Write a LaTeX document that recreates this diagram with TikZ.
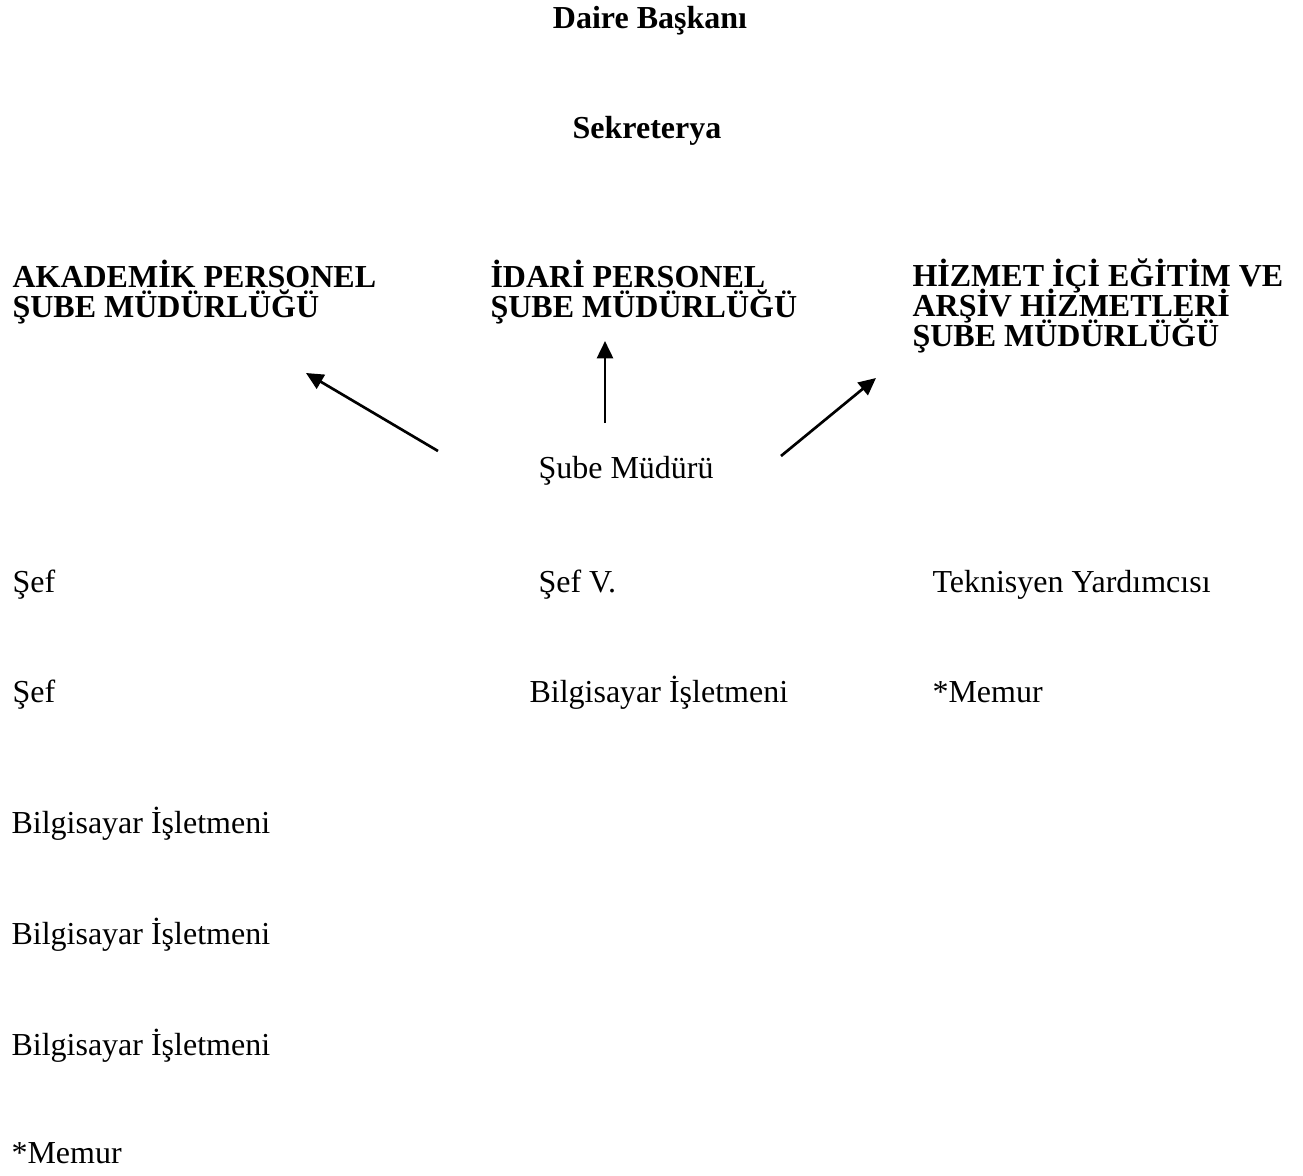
\documentclass[tikz,border=0pt]{standalone}
\usepackage{fontspec}
\setmainfont{Liberation Serif}
\usetikzlibrary{arrows.meta}
% tight heading lines, as in the chart
\newcommand\unitfont{\fontsize{12pt}{11.25pt}\selectfont\bfseries\lineskiplimit-20pt\relax}
\begin{document}
\begin{tikzpicture}[x=0.375pt,y=-0.375pt,
  title/.style={anchor=base,inner sep=0pt,font=\fontsize{12pt}{14pt}\selectfont\bfseries},
  unit/.style={anchor=base west,inner sep=0pt,align=left,font=\unitfont},
  staff/.style={anchor=base west,inner sep=0pt,font=\fontsize{12pt}{14pt}\selectfont},
  link/.style={-{Triangle[length=6.5pt,width=6pt]},line width=1pt}]
\useasboundingbox (0,0) rectangle (1303,1175);
% top
\node[title] (head) at (650,28) {Daire Başkanı};
\node[title] (secr) at (647,138) {Sekreterya};
% units (placed at the baseline of their last line)
\node[unit] (acad) at (12,317) {AKADEMİK PERSONEL\\ŞUBE MÜDÜRLÜĞÜ};
\node[unit] (admin) at (490,317) {İDARİ PERSONEL\\ŞUBE MÜDÜRLÜĞÜ};
\node[unit] (train) at (912,346) {HİZMET İÇİ EĞİTİM VE\\ARŞİV HİZMETLERİ\\ŞUBE MÜDÜRLÜĞÜ};
% manager
\node[staff] (mgr) at (538,478) {Şube Müdürü};
\coordinate (mgr_l) at (438,451);
\coordinate (mgr_m) at (605,423);
\coordinate (mgr_r) at (781,456);
\coordinate (acad_in) at (306,373);
\coordinate (admin_in) at (605,341);
\coordinate (train_in) at (876,378);
\draw[link] (mgr_l) -- (acad_in);
\draw[link] (mgr_m) -- (admin_in);
\draw[link] (mgr_r) -- (train_in);
% staff rows
\node[staff] (s_1_1) at (12,592) {Şef};
\node[staff] (s_1_2) at (538,592) {Şef V.};
\node[staff] (s_1_3) at (932,592) {Teknisyen Yardımcısı};
\node[staff] (s_2_1) at (12,702) {Şef};
\node[staff] (s_2_2) at (529,702) {Bilgisayar İşletmeni};
\node[staff] (s_2_3) at (932,702) {*Memur};
\node[staff] (s_3_1) at (11,833) {Bilgisayar İşletmeni};
\node[staff] (s_4_1) at (11,944) {Bilgisayar İşletmeni};
\node[staff] (s_5_1) at (11,1055) {Bilgisayar İşletmeni};
\node[staff] (s_6_1) at (11,1163) {*Memur};
\end{tikzpicture}
\end{document}
